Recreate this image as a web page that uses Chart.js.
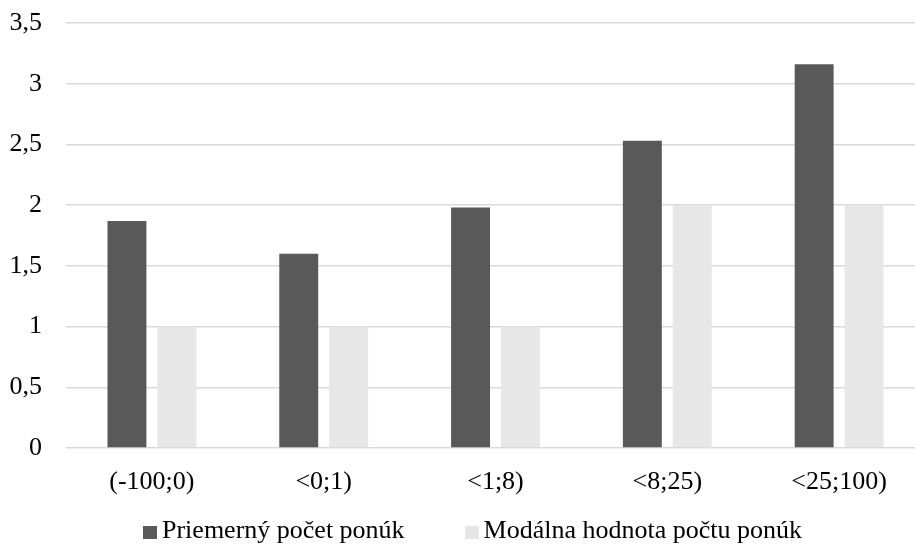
<!DOCTYPE html>
<html>
<head>
<meta charset="utf-8">
<script src="https://cdn.jsdelivr.net/npm/chart.js@4.4.0/dist/chart.umd.min.js"></script>
<style>
  html, body { margin: 0; padding: 0; background: #ffffff; overflow: hidden; }
  #wrap { position: relative; width: 915px; height: 545px; overflow: hidden; }
  #c { position: absolute; left: 0; top: 0; }
  #legend { position: absolute; left: 143px; top: 517px; display: flex; gap: 60px;
            font-family: "Liberation Serif", "Times New Roman", serif; font-size: 26px; line-height: 26px; color: #000; white-space: nowrap; }
  .item { position: relative; padding-left: 19px; }
  .sw { position: absolute; left: 0; top: 9px; width: 14px; height: 13px; }
</style>
</head>
<body>
<div id="wrap">
  <canvas id="c" width="925" height="545"></canvas>
  <div id="legend"></div>
</div>
<script>
const categories = ['(-100;0)', '<0;1)', '<1;8)', '<8;25)', '<25;100)'];
const seriesNames = ['Priemerný počet ponúk', 'Modálna hodnota počtu ponúk'];
const averageOffers = [1.87, 1.60, 1.98, 2.53, 3.16];
const modalOffers = [1, 1, 1, 2, 2];
const seriesColors = ['#595959', '#e7e7e7'];
const yMin = 0, yMax = 3.5, yStep = 0.5;

const FONT = '"Liberation Serif", "Times New Roman", serif';

const chart = new Chart(document.getElementById('c'), {
  type: 'bar',
  data: {
    labels: categories,
    datasets: [
      { label: seriesNames[0], data: averageOffers, backgroundColor: seriesColors[0], borderWidth: 0 },
      { label: seriesNames[1], data: modalOffers, backgroundColor: seriesColors[1], borderWidth: 0 }
    ]
  },
  options: {
    responsive: false,
    animation: false,
    devicePixelRatio: 1,
    layout: { padding: { top: 23, left: 9, right: 0, bottom: 47 } },
    datasets: { bar: { categoryPercentage: 0.581, barPercentage: 0.78 } },
    plugins: { legend: { display: false }, tooltip: { enabled: false } },
    scales: {
      x: {
        grid: { display: false, drawTicks: false, tickLength: 0 },
        border: { display: false },
        ticks: { color: '#000', padding: 19, font: { family: FONT, size: 26 }, maxRotation: 0 },
        afterFit: (s) => { s.paddingLeft = 0; s.paddingRight = 0; s.height = 50; }
      },
      y: {
        min: yMin, max: yMax,
        grid: { color: '#d9d9d9', lineWidth: 1.5, drawTicks: false, tickLength: 0 },
        border: { display: false },
        ticks: {
          stepSize: yStep, color: '#000', padding: 24,
          font: { family: FONT, size: 26 },
          callback: (v) => String(v).replace('.', ',')
        },
        afterFit: (s) => { s.paddingTop = 0; s.paddingBottom = 0; s.width = 57; }
      }
    }
  }
});

const legend = document.getElementById('legend');
chart.data.datasets.forEach((ds) => {
  const it = document.createElement('div');
  it.className = 'item';
  const sw = document.createElement('span');
  sw.className = 'sw';
  sw.style.background = ds.backgroundColor;
  it.appendChild(sw);
  it.appendChild(document.createTextNode(ds.label));
  legend.appendChild(it);
});
</script>
</body>
</html>
